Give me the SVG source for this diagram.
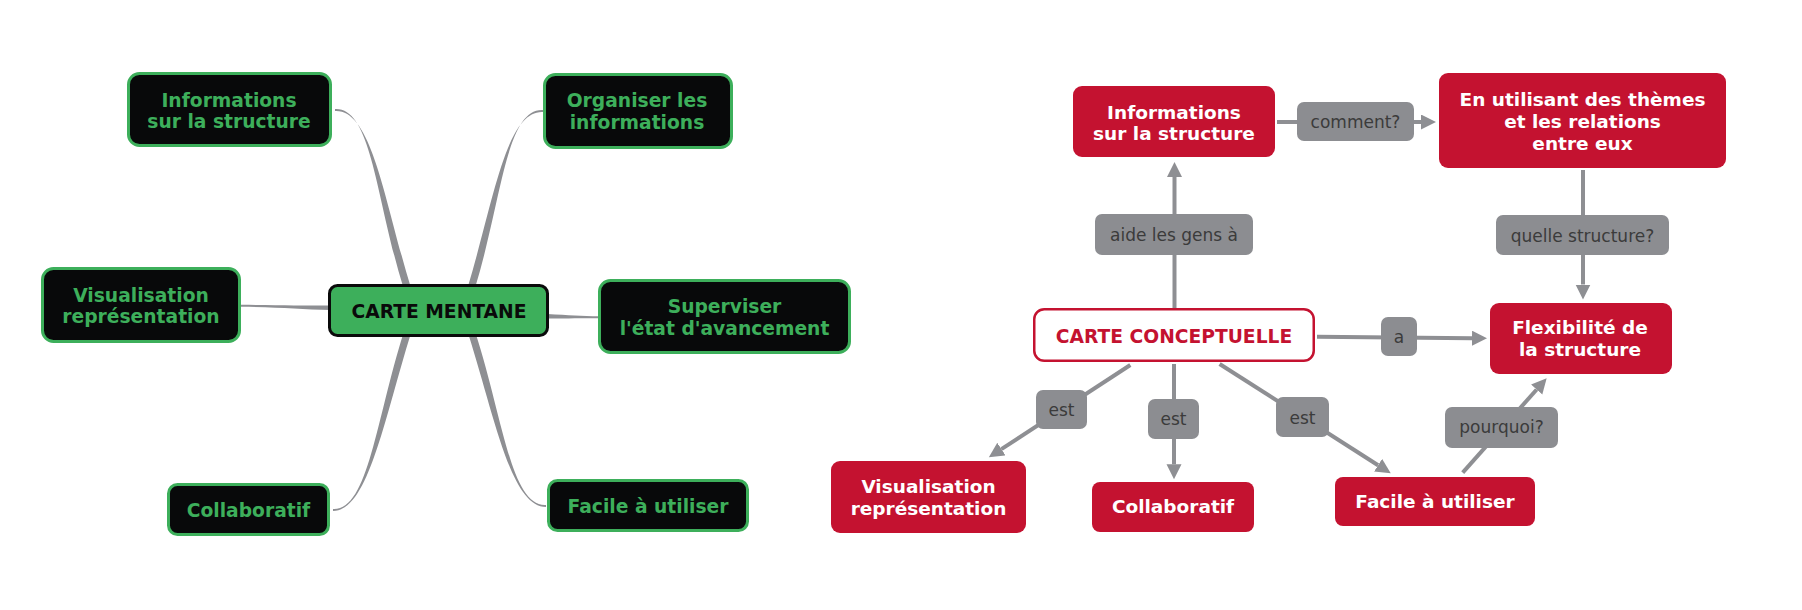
<svg xmlns="http://www.w3.org/2000/svg" width="1802" height="610" viewBox="0 0 1802 610">
<defs>
<style>
.gbox{fill:#08090a;stroke:#3daf5b;stroke-width:3}
.gtxt{fill:#3daf5b;font-family:"DejaVu Sans",Verdana,sans-serif;font-weight:bold;font-size:18.7px;text-anchor:middle}
.cbox{fill:#3daf5b;stroke:#0a0a0a;stroke-width:3}
.ctxt{fill:#0a0a0a;font-family:"DejaVu Sans",Verdana,sans-serif;font-weight:bold;font-size:18.7px;text-anchor:middle}
.rbox{fill:#c41230}
.rtxt{fill:#ffffff;font-family:"DejaVu Sans",Verdana,sans-serif;font-weight:bold;font-size:18.5px;text-anchor:middle}
.rcbox{fill:#ffffff;stroke:#c41230;stroke-width:2.5}
.rctxt{fill:#c41230;font-family:"DejaVu Sans",Verdana,sans-serif;font-weight:bold;font-size:18.7px;text-anchor:middle}
.branch{fill:#8e8f93}
.arr{stroke:#8e8f93;stroke-width:4;fill:none;marker-end:url(#ah)}
.lbl{fill:#8c8d91}
.ltxt{fill:#3b3b3b;font-family:"DejaVu Sans",Verdana,sans-serif;font-size:17px;text-anchor:middle}
</style>
<marker id="ah" markerUnits="userSpaceOnUse" markerWidth="16" markerHeight="16" refX="0" refY="7.5" orient="auto">
<path d="M0,0 L15,7.5 L0,15 z" fill="#8e8f93"/>
</marker>
</defs>
<rect width="1802" height="610" fill="#ffffff"/>

<g id="connectors">
<!-- mind map branches (tapered) -->
<path class="branch" d="M335,109 C372,107 376,200 403.5,288 L411,288 C384,200 372,109 335,111 Z"/>
<path class="branch" d="M543,110 C506,108 502,200 475,288 L467.5,288 C494,200 506,110 543,112 Z"/>
<path class="branch" d="M333,509 C368,511 376,420 403.5,333 L411,333 C384,420 368,511 333,511 Z"/>
<path class="branch" d="M546,505 C511,507 503,418 475.5,333 L468,333 C495,418 511,507 546,507 Z"/>
<path class="branch" d="M241,304.8 C280,305 300,305.5 331,305.5 L331,310 C300,309.5 280,307 241,306.8 Z"/>
<path class="branch" d="M547,314 C570,315 580,316.2 600,316.3 L600,318.2 C580,318.3 570,318.3 547,318.5 Z"/>

<!-- concept map links -->
<line class="arr" x1="1174.5" y1="308" x2="1174.5" y2="177"/>
<line class="arr" x1="1277" y1="122" x2="1421" y2="122"/>
<line class="arr" x1="1583" y1="170" x2="1583" y2="284.5"/>
<line class="arr" x1="1317" y1="336.7" x2="1472" y2="338.2"/>
<line class="arr" x1="1130.3" y1="365" x2="1001.4" y2="449.1"/>
<line class="arr" x1="1174" y1="364" x2="1174" y2="464.3"/>
<line class="arr" x1="1219.6" y1="364" x2="1378.1" y2="465.2"/>
<line class="arr" x1="1462.7" y1="472.7" x2="1536.7" y2="389.5"/>

<!-- link labels -->
<g>
<rect class="lbl" x="1095" y="214" width="158" height="41" rx="7"/>
<text class="ltxt" x="1174" y="241">aide les gens à</text>
</g>
<g>
<rect class="lbl" x="1297" y="102" width="117" height="39" rx="7"/>
<text class="ltxt" x="1355.5" y="128">comment?</text>
</g>
<g>
<rect class="lbl" x="1496" y="215" width="173" height="40" rx="7"/>
<text class="ltxt" x="1582.5" y="241.5">quelle structure?</text>
</g>
<g>
<rect class="lbl" x="1381" y="317" width="36" height="39" rx="7"/>
<text class="ltxt" x="1399" y="343">a</text>
</g>
<g>
<rect class="lbl" x="1036" y="390" width="51" height="39" rx="7"/>
<text class="ltxt" x="1061.5" y="415.5">est</text>
</g>
<g>
<rect class="lbl" x="1148" y="399" width="51" height="40" rx="7"/>
<text class="ltxt" x="1173.5" y="424.5">est</text>
</g>
<g>
<rect class="lbl" x="1276" y="397" width="53" height="40" rx="7"/>
<text class="ltxt" x="1302.5" y="423.5">est</text>
</g>
<g>
<rect class="lbl" x="1445" y="407" width="113" height="41" rx="7"/>
<text class="ltxt" x="1501.5" y="433">pourquoi?</text>
</g>
</g>

<!-- mind map nodes -->
<g id="mm-center">
<rect class="cbox" x="329.5" y="285.5" width="218" height="50" rx="8"/>
<text class="ctxt" x="439" y="318">CARTE MENTANE</text>
</g>
<g id="mm-informations">
<rect class="gbox" x="128.5" y="73.5" width="202" height="72" rx="11"/>
<text class="gtxt" x="229" y="106.5">Informations</text>
<text class="gtxt" x="229" y="128">sur la structure</text>
</g>
<g id="mm-organiser">
<rect class="gbox" x="544.5" y="74.5" width="187" height="73" rx="11"/>
<text class="gtxt" x="637" y="106.5">Organiser les</text>
<text class="gtxt" x="637" y="129">informations</text>
</g>
<g id="mm-visualisation">
<rect class="gbox" x="42.5" y="268.5" width="197" height="73" rx="11"/>
<text class="gtxt" x="141" y="301.5">Visualisation</text>
<text class="gtxt" x="141" y="323">représentation</text>
</g>
<g id="mm-superviser">
<rect class="gbox" x="599.5" y="280.5" width="250" height="72" rx="11"/>
<text class="gtxt" x="724.5" y="313">Superviser</text>
<text class="gtxt" x="724.5" y="335">l'état d'avancement</text>
</g>
<g id="mm-collaboratif">
<rect class="gbox" x="168.5" y="484.5" width="160" height="50" rx="9"/>
<text class="gtxt" x="248.5" y="516.5">Collaboratif</text>
</g>
<g id="mm-facile">
<rect class="gbox" x="548.5" y="480.5" width="199" height="50" rx="9"/>
<text class="gtxt" x="648" y="512.5">Facile à utiliser</text>
</g>

<!-- concept map nodes -->
<g id="cm-center">
<rect class="rcbox" x="1034.25" y="309.25" width="279.5" height="51.5" rx="10"/>
<text class="rctxt" x="1174" y="342.5">CARTE CONCEPTUELLE</text>
</g>
<g id="cm-informations">
<rect class="rbox" x="1073" y="86" width="202" height="71" rx="9"/>
<text class="rtxt" x="1174" y="118.5">Informations</text>
<text class="rtxt" x="1174" y="140">sur la structure</text>
</g>
<g id="cm-themes">
<rect class="rbox" x="1439" y="73" width="287" height="95" rx="9"/>
<text class="rtxt" x="1582.5" y="105.5">En utilisant des thèmes</text>
<text class="rtxt" x="1582.5" y="127.5">et les relations</text>
<text class="rtxt" x="1582.5" y="150">entre eux</text>
</g>
<g id="cm-flexibilite">
<rect class="rbox" x="1490" y="303" width="182" height="71" rx="9"/>
<text class="rtxt" x="1580" y="334">Flexibilité de</text>
<text class="rtxt" x="1580" y="356">la structure</text>
</g>
<g id="cm-visualisation">
<rect class="rbox" x="831" y="461" width="195" height="72" rx="9"/>
<text class="rtxt" x="928.5" y="492.5">Visualisation</text>
<text class="rtxt" x="928.5" y="515">représentation</text>
</g>
<g id="cm-collaboratif">
<rect class="rbox" x="1092" y="482" width="162" height="50" rx="8"/>
<text class="rtxt" x="1173" y="512.5">Collaboratif</text>
</g>
<g id="cm-facile">
<rect class="rbox" x="1335" y="477" width="200" height="49" rx="8"/>
<text class="rtxt" x="1435" y="508">Facile à utiliser</text>
</g>
</svg>
